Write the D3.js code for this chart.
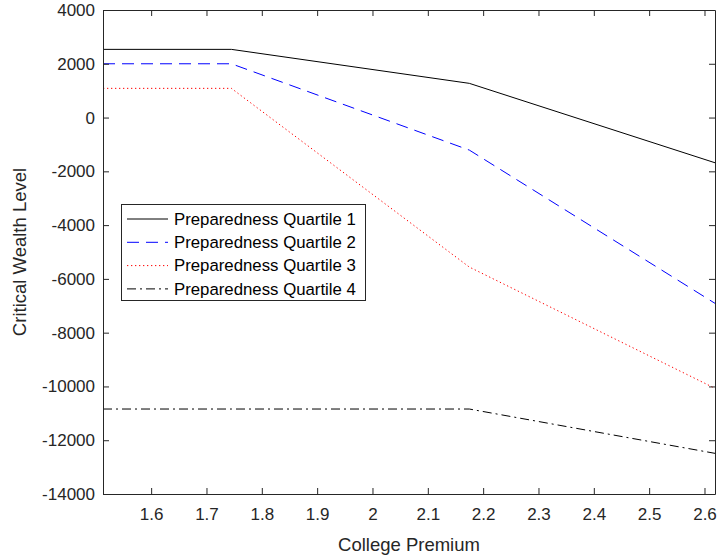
<!DOCTYPE html>
<html>
<head>
<meta charset="utf-8">
<script src="https://cdn.jsdelivr.net/npm/d3@7"></script>
<style>
  html, body { margin: 0; padding: 0; background: #fff; }
  svg { display: block; font-family: "Liberation Sans", Arial, Helvetica, sans-serif; }
</style>
</head>
<body>
<svg id="chart" width="717" height="557"></svg>
<script>
// College premium values where the policy kinks
const premium = [1.513, 1.745, 2.175, 2.619];

// Critical wealth level by preparedness quartile
const quartile1 = [2536, 2536, 1272, -1681];
const quartile2 = [2000, 2000, -1210, -6910];
const quartile3 = [1086, 1086, -5560, -10070];
const quartile4 = [-10840, -10840, -10840, -12488];

const seriesNames = [
  "Preparedness Quartile 1",
  "Preparedness Quartile 2",
  "Preparedness Quartile 3",
  "Preparedness Quartile 4"
];

const xTicks = [1.6, 1.7, 1.8, 1.9, 2, 2.1, 2.2, 2.3, 2.4, 2.5, 2.6];
const yTicks = [-14000, -12000, -10000, -8000, -6000, -4000, -2000, 0, 2000, 4000];

const styles = [
  { color: "#000000", dash: null },
  { color: "#0000ff", dash: "12,7" },
  { color: "#ff0000", dash: "1.3,2.7" },
  { color: "#000000", dash: "9,4,2,4" }
];

const series = [quartile1, quartile2, quartile3, quartile4].map((v, i) => ({
  name: seriesNames[i],
  values: v.map((y, j) => ({ x: premium[j], y })),
  style: styles[i]
}));

const svg = d3.select("#chart");
const plot = { left: 103, right: 715, top: 10, bottom: 494 };
const axisColor = "#262626";

const x = d3.scaleLinear().domain([premium[0], premium[premium.length - 1]]).range([plot.left, plot.right]);
const y = d3.scaleLinear().domain([-14000, 4000]).range([plot.bottom, plot.top]);

// Plot lines
const line = d3.line().x(d => x(d.x)).y(d => y(d.y));
svg.append("g").selectAll("path")
  .data(series)
  .join("path")
  .attr("d", d => line(d.values))
  .attr("fill", "none")
  .attr("stroke", d => d.style.color)
  .attr("stroke-width", 1)
  .attr("stroke-dasharray", d => d.style.dash);

// Axes (ticks point inward, box on all sides); labels use a plain hyphen for negatives
const tickLen = 6;
const plain = d => String(d);
const bottomAxis = d3.axisBottom(x).tickValues(xTicks).tickSizeInner(-tickLen).tickSizeOuter(0).tickPadding(14).tickFormat(plain);
const leftAxis = d3.axisLeft(y).tickValues(yTicks).tickSizeInner(-tickLen).tickSizeOuter(0).tickPadding(8).tickFormat(plain);
const topAxis = d3.axisTop(x).tickValues(xTicks).tickSizeInner(-tickLen).tickSizeOuter(0).tickFormat("");
const rightAxis = d3.axisRight(y).tickValues(yTicks).tickSizeInner(-tickLen).tickSizeOuter(0).tickFormat("");

function styleAxis(g) {
  g.selectAll("path.domain").attr("stroke", axisColor).attr("stroke-width", 1);
  g.selectAll(".tick line").attr("stroke", axisColor).attr("stroke-width", 1);
  g.selectAll(".tick text").attr("fill", axisColor).attr("font-size", 17)
    .attr("font-family", "'Liberation Sans', Arial, sans-serif");
}

svg.append("g").attr("transform", `translate(0,${plot.bottom})`).call(bottomAxis).call(styleAxis);
svg.append("g").attr("transform", `translate(${plot.left},0)`).call(leftAxis).call(styleAxis);
svg.append("g").attr("transform", `translate(0,${plot.top})`).call(topAxis).call(styleAxis);
svg.append("g").attr("transform", `translate(${plot.right},0)`).call(rightAxis).call(styleAxis);

// Axis labels
svg.append("text")
  .attr("x", (plot.left + plot.right) / 2)
  .attr("y", 551)
  .attr("text-anchor", "middle")
  .attr("font-size", 18.5)
  .attr("fill", axisColor)
  .text("College Premium");

svg.append("text")
  .attr("transform", `translate(26,${(plot.top + plot.bottom) / 2}) rotate(-90)`)
  .attr("text-anchor", "middle")
  .attr("font-size", 18.5)
  .attr("fill", axisColor)
  .text("Critical Wealth Level");

// Legend
const legend = svg.append("g");
legend.append("rect")
  .attr("x", 121.5).attr("y", 204.5)
  .attr("width", 244).attr("height", 96)
  .attr("fill", "#fff").attr("stroke", axisColor).attr("stroke-width", 1);

const rows = legend.selectAll("g.row").data(series).join("g")
  .attr("class", "row")
  .attr("transform", (d, i) => `translate(0,${219 + i * 23.3})`);

rows.append("line")
  .attr("x1", 127).attr("x2", 168)
  .attr("y1", 0).attr("y2", 0)
  .attr("stroke", d => d.style.color)
  .attr("stroke-width", 1)
  .attr("stroke-dasharray", d => d.style.dash);

rows.append("text")
  .attr("x", 174).attr("y", 0)
  .attr("dy", "0.35em")
  .attr("font-size", 16.8)
  .attr("fill", "#000")
  .text(d => d.name);
</script>
</body>
</html>
